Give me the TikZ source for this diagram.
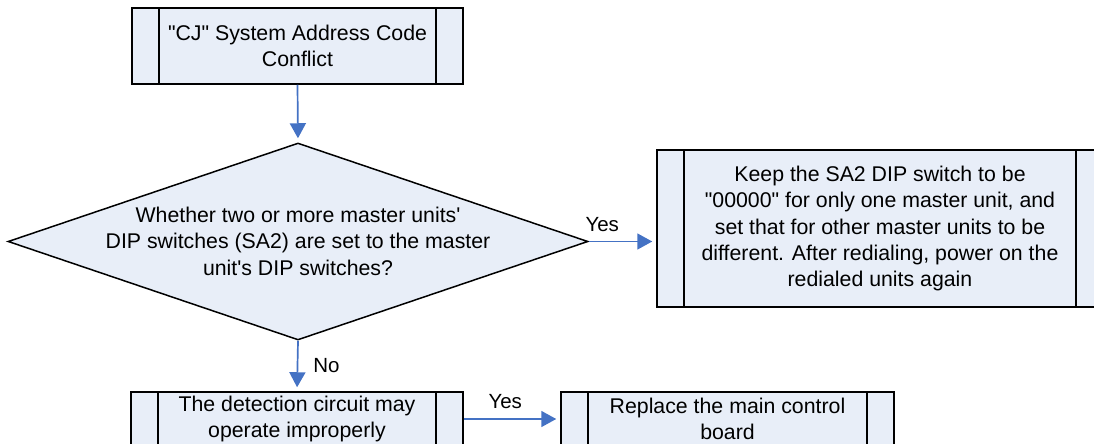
\documentclass[tikz,border=0pt]{standalone}
\usepackage{fontspec}
\setmainfont{Liberation Sans}[Ligatures=TeXOff]
\usetikzlibrary{arrows.meta,shapes.geometric}
\definecolor{boxfill}{HTML}{E8EEF8}
\definecolor{arrowblue}{HTML}{4472C4}
\tikzset{
  proc/.style={draw=black, line width=1.5pt, fill=boxfill, rectangle, inner sep=0pt,
    align=center, font=\fontsize{21.3}{26.3}\selectfont,
    path picture={
      \draw[line width=1.5pt] ([xshift=27pt]path picture bounding box.north west) -- ([xshift=27pt]path picture bounding box.south west);
      \draw[line width=1.5pt] ([xshift=-27pt]path picture bounding box.north east) -- ([xshift=-27pt]path picture bounding box.south east);
    }},
  decision/.style={draw=black, line width=1.5pt, fill=boxfill, diamond, inner sep=0pt},
  txt/.style={align=center, font=\fontsize{21.3}{26.6}\selectfont, inner sep=0pt},
  lbl/.style={font=\fontsize{20.5}{24}\selectfont, inner sep=0pt},
  conn/.style={draw=arrowblue, line width=1.7pt, -{Triangle[length=15pt,width=16pt]}, shorten >=4pt},
}
\begin{document}
\begin{tikzpicture}[x=1pt,y=-1pt]
\useasboundingbox (0,0) rectangle (1094,444);
\clip (0,0) rectangle (1094,444);
\node[proc, minimum width=331pt, minimum height=76pt] (top) at (297.5,46) {"CJ" System Address Code\\Conflict};
\node[decision, minimum width=580pt, minimum height=197pt] (dec) at (298,241.5) {};
\node[txt] (dectxt) at (298,241) {Whether two or more master units'\\DIP switches (SA2) are set to the master\\unit's DIP switches?};
\node[proc, minimum width=446pt, minimum height=157pt] (rb) at (880,228.5) {Keep the SA2 DIP switch to be\\"00000" for only one master unit, and\\set that for other master units to be\\different. After redialing, power on the\\redialed units again};
\node[proc, minimum width=332pt, minimum height=54pt] (bl) at (297,419) {The detection circuit may\\operate improperly};
\node[proc, minimum width=333pt, minimum height=54pt] (br) at (727.5,419) {Replace the main control\\board};
\draw[conn] (top.south) -- (dec.north);
\draw[conn] (dec.east) -- (dec.east -| rb.west) node[lbl, pos=0.2, above=9pt] (yes1) {Yes};
\draw[conn] (dec.south) -- (bl.north) node[lbl, midway, right=15pt] (no1) {No};
\draw[conn] (bl.east) -- (br.west) node[lbl, pos=0.43, above=9pt] (yes2) {Yes};
\end{tikzpicture}
\end{document}
